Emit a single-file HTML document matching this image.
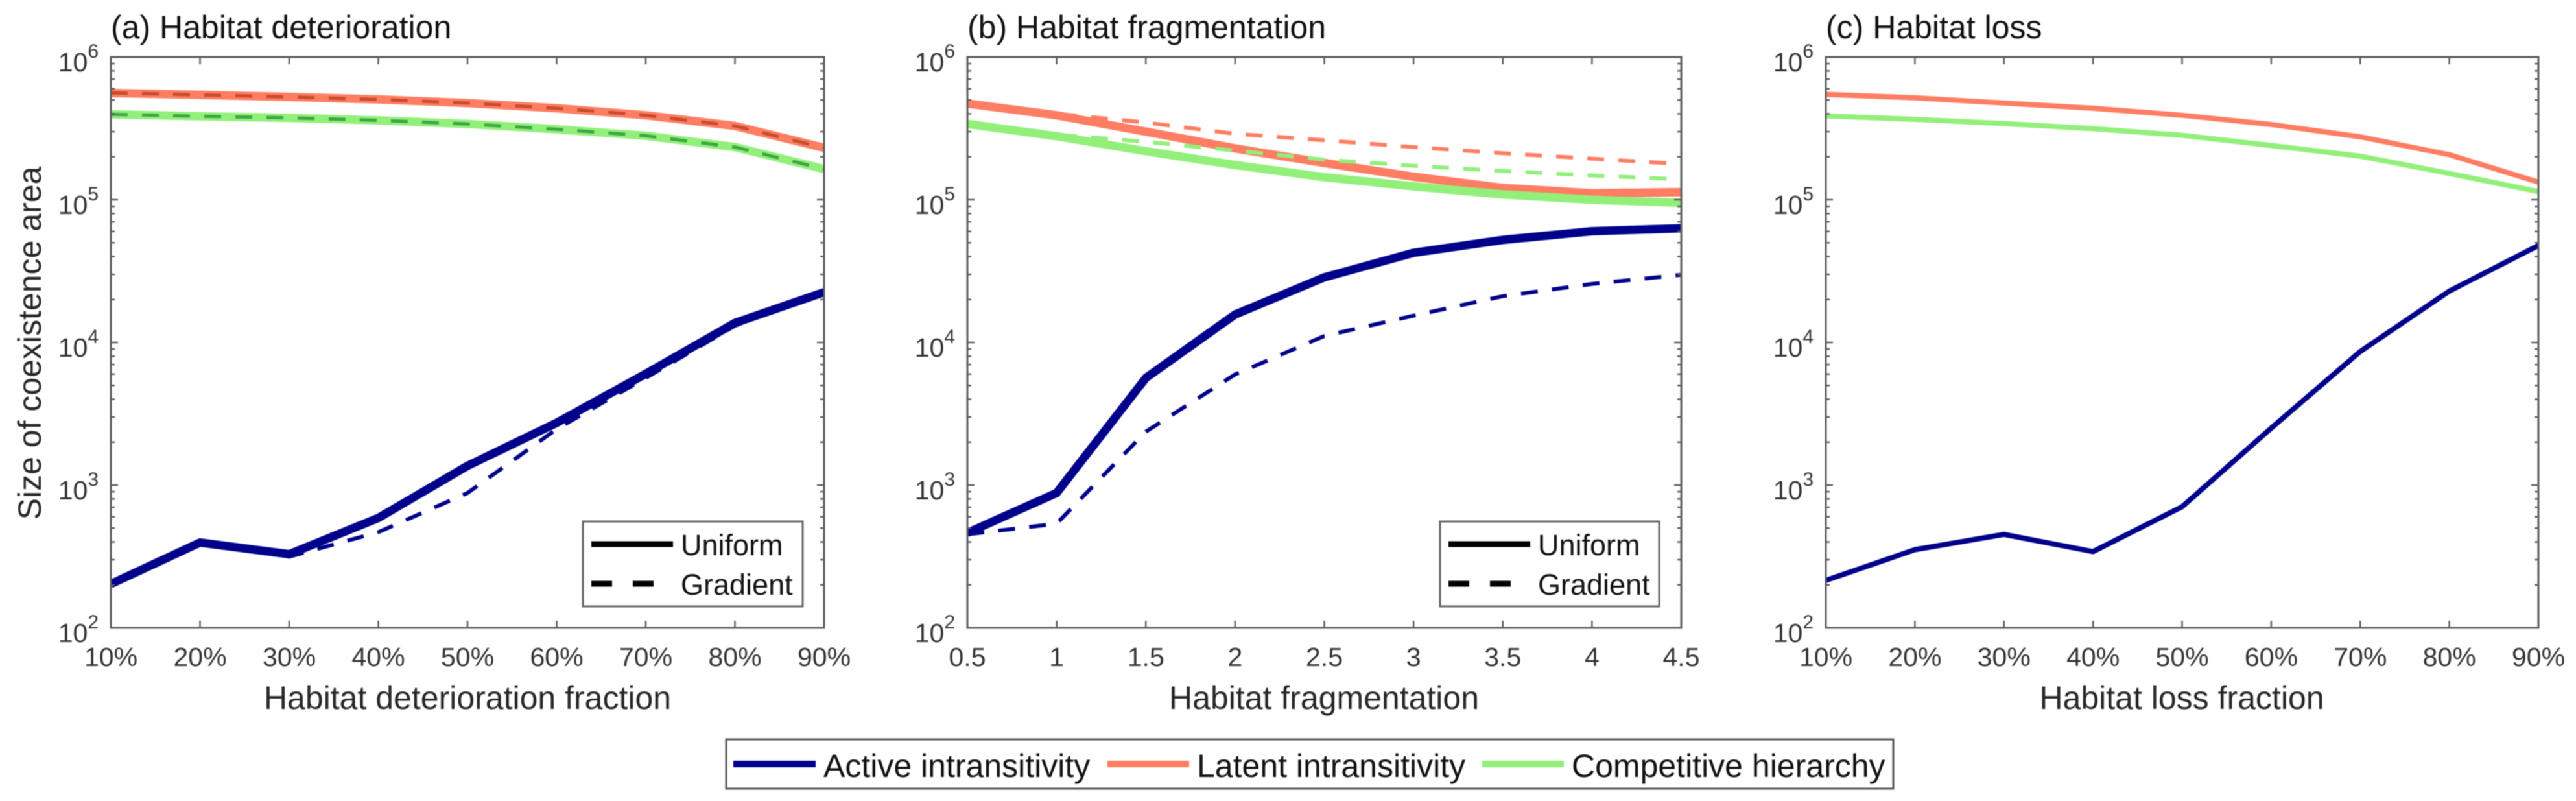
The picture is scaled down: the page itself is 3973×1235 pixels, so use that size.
<!DOCTYPE html>
<html lang="en">
<head>
<meta charset="utf-8">
<title>Size of coexistence area under habitat change</title>
<style>
html,body{margin:0;padding:0;background:#fff;width:3973px;height:1235px;overflow:hidden}
svg{display:block;position:absolute;left:0;top:0}
text{font-family:"Liberation Sans",Arial,sans-serif}
.title{font-size:50px;fill:#111}
.label{font-size:50px;fill:#262626}
.tick{font-size:41px;fill:#333}
.leg{font-size:45px;fill:#111}
.bleg{font-size:50px;fill:#111}
</style>
</head>
<body>
<svg id="chart" width="3973" height="1235" viewBox="0 0 3973 1235" xmlns="http://www.w3.org/2000/svg" style="filter:blur(0.7px)">
  <defs>
    <clipPath id="clip-a"><rect x="171" y="88" width="1100" height="880"/></clipPath>
    <clipPath id="clip-b"><rect x="1492" y="88" width="1101" height="880"/></clipPath>
    <clipPath id="clip-c"><rect x="2816" y="88" width="1099" height="880"/></clipPath>
  </defs>
  <rect x="0" y="0" width="3973" height="1235" fill="#fff"/>

  <g id="panel-a"></g>
  <g id="panel-b"></g>
  <g id="panel-c"></g>

  <text class="title" x="171" y="59">(a) Habitat deterioration</text>
  <text class="title" x="1492" y="59">(b) Habitat fragmentation</text>
  <text class="title" x="2816" y="59">(c) Habitat loss</text>

  <text class="label" transform="translate(63 529) rotate(-90)" text-anchor="middle">Size of coexistence area</text>
  <text class="label" x="721" y="1093" text-anchor="middle">Habitat deterioration fraction</text>
  <text class="label" x="2042" y="1093" text-anchor="middle">Habitat fragmentation</text>
  <text class="label" x="3365" y="1093" text-anchor="middle">Habitat loss fraction</text>

  <g>
    <rect x="899" y="804" width="339" height="131" fill="#fff" stroke="#666" stroke-width="3"/>
    <line x1="912" y1="839" x2="1038" y2="839" stroke="#000" stroke-width="9"/>
    <line x1="912" y1="900" x2="1008" y2="900" stroke="#000" stroke-width="9" stroke-dasharray="32 32"/>
    <text class="leg" x="1050" y="856">Uniform</text>
    <text class="leg" x="1050" y="917">Gradient</text>
  </g>
  <g>
    <rect x="2221" y="804" width="338" height="131" fill="#fff" stroke="#666" stroke-width="3"/>
    <line x1="2234" y1="839" x2="2360" y2="839" stroke="#000" stroke-width="9"/>
    <line x1="2234" y1="900" x2="2330" y2="900" stroke="#000" stroke-width="9" stroke-dasharray="32 32"/>
    <text class="leg" x="2372" y="856">Uniform</text>
    <text class="leg" x="2372" y="917">Gradient</text>
  </g>

  <g>
    <rect x="1120" y="1140" width="1800" height="76" fill="#fff" stroke="#555" stroke-width="3"/>
    <line x1="1131" y1="1178" x2="1258" y2="1178" stroke="#00008b" stroke-width="10"/>
    <text class="bleg" x="1270" y="1198">Active intransitivity</text>
    <line x1="1708" y1="1178" x2="1834" y2="1178" stroke="#ff7d62" stroke-width="10"/>
    <text class="bleg" x="1846" y="1198">Latent intransitivity</text>
    <line x1="2286" y1="1178" x2="2412" y2="1178" stroke="#92f07a" stroke-width="10"/>
    <text class="bleg" x="2424" y="1198">Competitive hierarchy</text>
  </g>
</svg>

<script>
// X values and tick labels
const fractionX = [10, 20, 30, 40, 50, 60, 70, 80, 90];
const fractionLabels = ['10%', '20%', '30%', '40%', '50%', '60%', '70%', '80%', '90%'];
const fragmentationX = [0.5, 1, 1.5, 2, 2.5, 3, 3.5, 4, 4.5];
const fragmentationLabels = ['0.5', '1', '1.5', '2', '2.5', '3', '3.5', '4', '4.5'];
const yExponents = [2, 3, 4, 5, 6];

// Panel (a) Habitat deterioration
const aLatentUniform = [561000, 543000, 526000, 505000, 476000, 438000, 391000, 329000, 231000];
const aCompetitiveUniform = [397000, 385000, 375000, 360000, 340000, 312000, 281000, 234000, 164000];
const aActiveUniform = [203, 396, 328, 589, 1365, 2730, 6030, 13700, 22500];
const aLatentGradient = [561000, 543000, 526000, 505000, 476000, 438000, 391000, 329000, 231000];
const aCompetitiveGradient = [397000, 385000, 375000, 360000, 340000, 312000, 281000, 234000, 164000];
const aActiveGradient = [203, 396, 315, 468, 881, 2470, 5640, 13100, 22500];

// Panel (b) Habitat fragmentation
const bLatentUniform = [472000, 391000, 300000, 229000, 181000, 145000, 121000, 111000, 113000];
const bCompetitiveUniform = [340000, 279000, 219000, 175000, 144000, 124000, 109000, 100000, 95300];
const bActiveUniform = [463, 881, 5640, 15700, 28600, 42500, 52300, 60200, 63100];
const bLatentGradient = [472000, 401000, 348000, 290000, 261000, 234000, 212000, 194000, 178000];
const bCompetitiveGradient = [340000, 286000, 255000, 221000, 191000, 173000, 159000, 148000, 139000];
const bActiveGradient = [452, 537, 2370, 5970, 11100, 15400, 21100, 25700, 29800];

// Panel (c) Habitat loss
const cLatent = [548000, 518000, 476000, 438000, 391000, 337000, 276000, 207000, 133000];
const cCompetitive = [387000, 366000, 342000, 315000, 283000, 240000, 202000, 153000, 114000];
const cActive = [215, 353, 452, 342, 706, 2510, 8650, 22900, 47800];

const NS = 'http://www.w3.org/2000/svg';
const plotTop = 88;
const plotBottom = 968;
const navy = '#00008b';
const salmon = '#ff7d62';
const mint = '#92f07a';

function yScale(value) {
  const lo = yExponents[0];
  const hi = yExponents[yExponents.length - 1];
  return plotBottom - (Math.log10(value) - lo) / (hi - lo) * (plotBottom - plotTop);
}

function xScale(panel, value) {
  const xs = panel.x;
  const lo = xs[0];
  const hi = xs[xs.length - 1];
  return panel.left + (value - lo) / (hi - lo) * (panel.right - panel.left);
}

function make(parent, tag, name, attrs) {
  const el = document.createElementNS(NS, tag);
  
  
  Object.keys(attrs).forEach(function (key) { el.setAttribute(key, attrs[key]); });
  parent.appendChild(el);
  return el;
}

function drawSeries(panel, group, s) {
  const points = s.values.map(function (v, i) {
    return xScale(panel, panel.x[i]).toFixed(1) + ',' + yScale(v).toFixed(1);
  }).join(' ');
  const attrs = {
    points: points,
    fill: 'none',
    stroke: s.color,
    'stroke-width': s.width,
    'stroke-linejoin': 'round'
  };
  if (s.dash) attrs['stroke-dasharray'] = s.dash;
  make(group, 'polyline', s.name, attrs);
}

function drawPanel(panel) {
  const root = document.getElementById(panel.id);
  const axisColor = '#5c5c5c';
  const series = make(root, 'g', 'series-group', { 'clip-path': 'url(#' + panel.clip + ')' });
  panel.series.forEach(function (s) { drawSeries(panel, series, s); });

  make(root, 'rect', 'plot-frame', {
    x: panel.left, y: plotTop,
    width: panel.right - panel.left, height: plotBottom - plotTop,
    fill: 'none', stroke: axisColor, 'stroke-width': 3
  });

  panel.x.forEach(function (v, i) {
    const x = xScale(panel, v);
    make(root, 'line', 'x-tick-bottom', { x1: x, x2: x, y1: plotBottom, y2: plotBottom - 11, stroke: axisColor, 'stroke-width': 2.5 });
    make(root, 'line', 'x-tick-top', { x1: x, x2: x, y1: plotTop, y2: plotTop + 11, stroke: axisColor, 'stroke-width': 2.5 });
    const label = make(root, 'text', 'x-tick-label', { class: 'tick', x: x, y: 1027, 'text-anchor': 'middle' });
    label.textContent = panel.labels[i];
  });

  yExponents.forEach(function (exp, i) {
    const y = yScale(Math.pow(10, exp));
    make(root, 'line', 'y-tick-left', { x1: panel.left, x2: panel.left + 11, y1: y, y2: y, stroke: axisColor, 'stroke-width': 2.5 });
    make(root, 'line', 'y-tick-right', { x1: panel.right, x2: panel.right - 11, y1: y, y2: y, stroke: axisColor, 'stroke-width': 2.5 });
    const label = make(root, 'text', 'y-tick-label', { class: 'tick', x: panel.left - 19, y: y + 22, 'text-anchor': 'end' });
    const base = make(label, 'tspan', 'y-tick-base', {});
    base.textContent = '10';
    const sup = make(label, 'tspan', 'y-tick-exponent', { 'font-size': 30, dy: -21 });
    sup.textContent = String(exp);
    if (i < yExponents.length - 1) {
      for (let k = 2; k <= 9; k++) {
        const ym = yScale(k * Math.pow(10, exp));
        make(root, 'line', 'y-minor-tick-left', { x1: panel.left, x2: panel.left + 6, y1: ym, y2: ym, stroke: axisColor, 'stroke-width': 2.5 });
        make(root, 'line', 'y-minor-tick-right', { x1: panel.right, x2: panel.right - 6, y1: ym, y2: ym, stroke: axisColor, 'stroke-width': 2.5 });
      }
    }
  });
}

const DASH = '26 22';

drawPanel({
  id: 'panel-a', clip: 'clip-a', left: 171, right: 1271,
  x: fractionX, labels: fractionLabels,
  series: [
    { name: 'active-uniform-line', values: aActiveUniform, color: navy, width: 13 },
    { name: 'latent-uniform-line', values: aLatentUniform, color: salmon, width: 13 },
    { name: 'competitive-uniform-line', values: aCompetitiveUniform, color: mint, width: 13 },
    { name: 'active-gradient-line', values: aActiveGradient, color: navy, width: 6, dash: DASH },
    { name: 'latent-gradient-line', values: aLatentGradient, color: '#c94c2c', width: 5, dash: DASH },
    { name: 'competitive-gradient-line', values: aCompetitiveGradient, color: '#3fa644', width: 5, dash: DASH }
  ]
});

drawPanel({
  id: 'panel-b', clip: 'clip-b', left: 1492, right: 2593,
  x: fragmentationX, labels: fragmentationLabels,
  series: [
    { name: 'active-uniform-line', values: bActiveUniform, color: navy, width: 13 },
    { name: 'latent-uniform-line', values: bLatentUniform, color: salmon, width: 13 },
    { name: 'competitive-uniform-line', values: bCompetitiveUniform, color: mint, width: 13 },
    { name: 'active-gradient-line', values: bActiveGradient, color: navy, width: 6, dash: DASH },
    { name: 'latent-gradient-line', values: bLatentGradient, color: salmon, width: 6, dash: DASH },
    { name: 'competitive-gradient-line', values: bCompetitiveGradient, color: mint, width: 6, dash: DASH }
  ]
});

drawPanel({
  id: 'panel-c', clip: 'clip-c', left: 2816, right: 3915,
  x: fractionX, labels: fractionLabels,
  series: [
    { name: 'active-line', values: cActive, color: navy, width: 8 },
    { name: 'latent-line', values: cLatent, color: salmon, width: 8 },
    { name: 'competitive-line', values: cCompetitive, color: mint, width: 8 }
  ]
});
</script>
</body>
</html>
